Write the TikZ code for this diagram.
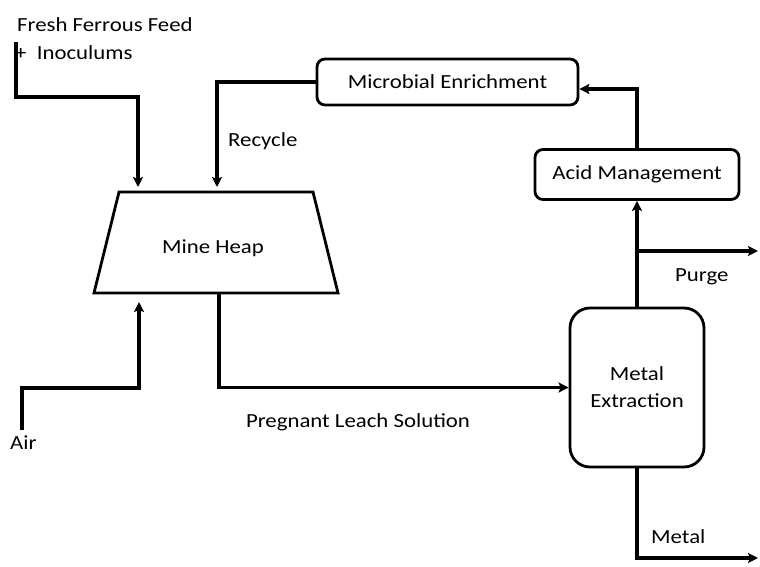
\documentclass[tikz,border=0pt]{standalone}
\usepackage{fontspec}
\setmainfont{Carlito}[FakeStretch=1.14]
\usetikzlibrary{arrows.meta}
\begin{document}
\begin{tikzpicture}[x=1pt,y=-1pt,
  flow/.style={line width=3.2pt, -{Stealth[length=10pt,width=10pt,inset=2pt]}},
  unit/.style={draw, line width=2.8pt, rounded corners=8pt, inner sep=0pt},
  lbl/.style={font=\fontsize{20}{24}\selectfont, inner sep=0pt}]
\useasboundingbox (0,0) rectangle (760,567);

% process units
\node[unit, minimum width=261pt, minimum height=46pt, lbl] (micro) at (447.5,82) {Microbial Enrichment};
\node[unit, minimum width=204pt, minimum height=50pt, lbl] (acid) at (637,174.5) {Acid Management};
\node[unit, rounded corners=20pt, minimum width=134pt, minimum height=159pt, lbl, align=center] (ext) at (637,387.5) {Metal\\[3pt]Extraction};

% mine heap (trapezium)
\draw[line width=2.8pt, line join=miter] (119,192) -- (313,192) -- (338,293) -- (94,293) -- cycle;
\node[lbl] (heap) at (213,248) {Mine Heap};
\coordinate (heapin1) at (138,187);
\coordinate (heapin2) at (217,187);
\coordinate (heapair) at (139,302);
\coordinate (heapout) at (219,293);

% labels
\node[lbl, anchor=west] (feed1) at (17,25) {Fresh Ferrous Feed};
\node[lbl, anchor=west] (feed2) at (15,53) {+\ \ Inoculums};
\node[lbl, anchor=west] (rec) at (228,141) {Recycle};
\node[lbl, anchor=west] (purge) at (675,277) {Purge};
\node[lbl] (pls) at (358,422) {Pregnant Leach Solution};
\node[lbl, anchor=west] (air) at (10,443) {Air};
\node[lbl, anchor=west] (metal) at (651,537) {Metal};

% free ends
\coordinate (feedstart) at (16,42);
\coordinate (airstart) at (22,430);
\coordinate (purgeend) at (758,251);
\coordinate (metalend) at (758,558);
\coordinate (split) at (ext.north |- purgeend);

% streams
\draw[flow] (feedstart) |- (138,97) -- (heapin1);
\draw[flow] (micro.west) -| (heapin2);
\draw[flow] (airstart) |- (139,388) -- (heapair);
\draw[flow] (heapout) |- (ext.west);
\draw[flow] (ext.north) -- (acid.south);
\draw[flow] (split) -- (purgeend);
\draw[flow] (acid.north) |- (micro.east |- 0,89);
\draw[flow] (ext.south) |- (metalend);
\end{tikzpicture}
\end{document}
